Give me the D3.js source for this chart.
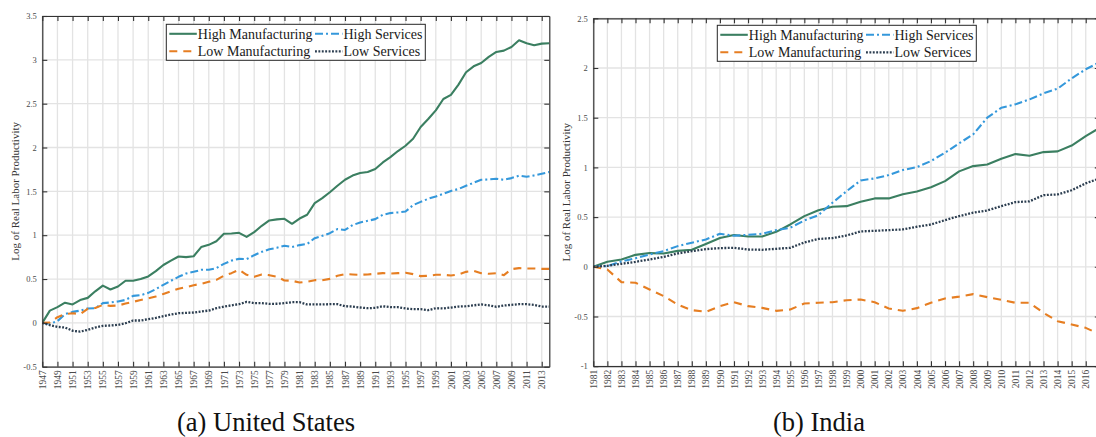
<!DOCTYPE html>
<html>
<head>
<meta charset="utf-8">
<script src="https://cdn.jsdelivr.net/npm/d3@7"></script>
<style>
  html, body { margin: 0; padding: 0; background: #fff; }
  svg { display: block; font-family: "Liberation Serif", "Times New Roman", serif; }
</style>
</head>
<body>
<svg id="chart" width="1096" height="437"></svg>
<script>
// ---- United States, 1947–2014 ----
const usYears = d3.range(1947, 2015);
const usHighManufacturing = [
  0, 0.14, 0.18, 0.23, 0.21, 0.26, 0.285, 0.36, 0.425, 0.38,
  0.415, 0.48, 0.48, 0.50, 0.53, 0.59, 0.66, 0.71, 0.757, 0.75,
  0.76, 0.864, 0.89, 0.93, 1.016, 1.02, 1.027, 0.98, 1.035, 1.107,
  1.168, 1.18, 1.187, 1.13, 1.19, 1.233, 1.366, 1.423, 1.49, 1.564,
  1.632, 1.68, 1.71, 1.72, 1.754, 1.83, 1.89, 1.96, 2.02, 2.10,
  2.234, 2.325, 2.424, 2.553, 2.60, 2.717, 2.858, 2.926, 2.964, 3.033,
  3.09, 3.105, 3.147, 3.223, 3.19, 3.166, 3.185, 3.19
];
const usHighServices = [
  0, -0.01, 0.02, 0.10, 0.125, 0.14, 0.164, 0.167, 0.225, 0.232,
  0.244, 0.262, 0.308, 0.316, 0.342, 0.384, 0.434, 0.48, 0.525, 0.563,
  0.582, 0.605, 0.605, 0.624, 0.673, 0.71, 0.73, 0.727, 0.772, 0.81,
  0.84, 0.856, 0.88, 0.864, 0.887, 0.90, 0.966, 0.993, 1.023, 1.07,
  1.06, 1.115, 1.145, 1.164, 1.183, 1.233, 1.252, 1.26, 1.27, 1.343,
  1.38, 1.415, 1.442, 1.473, 1.505, 1.526, 1.564, 1.598, 1.632, 1.636,
  1.644, 1.632, 1.651, 1.678, 1.667, 1.682, 1.70, 1.72
];
const usLowManufacturing = [
  0, 0.004, 0.065, 0.10, 0.11, 0.10, 0.16, 0.17, 0.205, 0.194,
  0.198, 0.22, 0.24, 0.26, 0.28, 0.30, 0.33, 0.36, 0.39, 0.407,
  0.43, 0.445, 0.468, 0.49, 0.537, 0.567, 0.605, 0.548, 0.525, 0.552,
  0.544, 0.527, 0.483, 0.48, 0.46, 0.47, 0.487, 0.487, 0.502, 0.537,
  0.556, 0.552, 0.548, 0.552, 0.56, 0.567, 0.563, 0.567, 0.571, 0.556,
  0.533, 0.537, 0.548, 0.548, 0.54, 0.552, 0.582, 0.594, 0.567, 0.56,
  0.567, 0.544, 0.613, 0.624, 0.62, 0.62, 0.616, 0.616
];
const usLowServices = [
  0, -0.027, -0.046, -0.053, -0.09, -0.1, -0.08, -0.053, -0.034, -0.03,
  -0.023, -0.004, 0.027, 0.027, 0.042, 0.057, 0.076, 0.095, 0.11, 0.114,
  0.118, 0.13, 0.14, 0.167, 0.186, 0.20, 0.213, 0.24, 0.225, 0.225,
  0.217, 0.218, 0.225, 0.236, 0.236, 0.21, 0.21, 0.21, 0.213, 0.213,
  0.19, 0.186, 0.175, 0.167, 0.171, 0.19, 0.179, 0.179, 0.164, 0.156,
  0.156, 0.145, 0.167, 0.164, 0.175, 0.186, 0.19, 0.20, 0.21, 0.20,
  0.183, 0.198, 0.205, 0.213, 0.213, 0.205, 0.186, 0.186
];
const usXTicks = d3.range(1947, 2014, 2);
const usYTicks = [-0.5, 0, 0.5, 1, 1.5, 2, 2.5, 3, 3.5];

// ---- India, 1981–2017 ----
const inYears = d3.range(1981, 2018);
const inHighManufacturing = [
  0, 0.05, 0.074, 0.12, 0.138, 0.134, 0.16, 0.171, 0.23, 0.29,
  0.32, 0.305, 0.305, 0.352, 0.426, 0.51, 0.568, 0.604, 0.61, 0.654,
  0.688, 0.688, 0.73, 0.758, 0.80, 0.862, 0.96, 1.013, 1.03, 1.087,
  1.134, 1.117, 1.154, 1.161, 1.22, 1.315, 1.40
];
const inHighServices = [
  0, 0.007, 0.054, 0.087, 0.124, 0.158, 0.208, 0.242, 0.275, 0.332,
  0.312, 0.322, 0.332, 0.369, 0.393, 0.466, 0.52, 0.645, 0.76, 0.869,
  0.889, 0.923, 0.973, 1.003, 1.064, 1.148, 1.242, 1.332, 1.50, 1.60,
  1.634, 1.684, 1.745, 1.792, 1.896, 1.987, 2.06
];
const inLowManufacturing = [
  0, -0.027, -0.154, -0.16, -0.228, -0.295, -0.38, -0.436, -0.453, -0.396,
  -0.356, -0.396, -0.413, -0.443, -0.43, -0.369, -0.362, -0.356, -0.336, -0.329,
  -0.356, -0.42, -0.443, -0.416, -0.362, -0.319, -0.30, -0.275, -0.305, -0.332,
  -0.362, -0.362, -0.463, -0.547, -0.58, -0.614, -0.68
];
const inLowServices = [
  0, 0.01, 0.03, 0.05, 0.074, 0.10, 0.134, 0.158, 0.178, 0.188,
  0.191, 0.174, 0.171, 0.181, 0.191, 0.245, 0.28, 0.289, 0.315, 0.356,
  0.362, 0.369, 0.376, 0.403, 0.426, 0.47, 0.51, 0.544, 0.567, 0.61,
  0.651, 0.658, 0.721, 0.728, 0.77, 0.84, 0.89
];
const inXTicks = d3.range(1981, 2017);
const inYTicks = [-1, -0.5, 0, 0.5, 1, 1.5, 2, 2.5];

const seriesNames = ["High Manufacturing", "High Services", "Low Manufacturing", "Low Services"];
const seriesStyle = {
  "High Manufacturing": { color: "#3b7f61", dash: null, width: 2.1 },
  "High Services":      { color: "#3498db", dash: "8,3,2,3", width: 2.1 },
  "Low Manufacturing":  { color: "#e67e22", dash: "8,6", width: 2.1 },
  "Low Services":       { color: "#2c3e50", dash: "1.9,1.5", width: 2.3 }
};

const svg = d3.select("#chart");

function drawPanel(cfg) {
  const { id, left, right, top, bottom, years, series, xDomain, yDomain, xTicks, yTicks, caption, captionX } = cfg;
  const g = svg.append("g").attr("class", "panel-" + id);
  const x = d3.scaleLinear().domain(xDomain).range([left, right]);
  const y = d3.scaleLinear().domain(yDomain).range([bottom, top]);

  g.append("clipPath").attr("id", "clip-" + id)
    .append("rect").attr("x", left).attr("y", top).attr("width", right - left).attr("height", bottom - top);

  // grid
  const grid = g.append("g").attr("stroke", "#e3e3e3").attr("stroke-width", 1.3);
  grid.selectAll("line.v").data(xTicks).join("line").attr("class", "v")
    .attr("x1", d => x(d)).attr("x2", d => x(d)).attr("y1", top).attr("y2", bottom);
  grid.selectAll("line.h").data(yTicks).join("line").attr("class", "h")
    .attr("x1", left).attr("x2", right).attr("y1", d => y(d)).attr("y2", d => y(d));

  // series lines
  const line = d3.line().x((d, i) => x(years[i])).y(d => y(d));
  const lines = g.append("g").attr("clip-path", `url(#clip-${id})`);
  seriesNames.forEach(name => {
    const st = seriesStyle[name];
    lines.append("path").datum(series[name])
      .attr("fill", "none").attr("stroke", st.color).attr("stroke-width", st.width)
      .attr("stroke-dasharray", st.dash).attr("stroke-linejoin", "round")
      .attr("d", line);
  });

  // axes (box with inward ticks)
  const axisColor = "#333";
  const styleAxis = sel => {
    sel.select(".domain").attr("stroke", axisColor).attr("stroke-width", 1.2);
    sel.selectAll(".tick line").attr("stroke", axisColor).attr("stroke-width", 1.1);
    sel.selectAll("text").attr("fill", "#4a4a4a").attr("font-family", "Liberation Serif, serif");
  };
  const xb = g.append("g").attr("transform", `translate(0,${bottom})`)
    .call(d3.axisBottom(x).tickValues(xTicks).tickSize(-5).tickSizeOuter(0).tickFormat(d => String(d)));
  xb.selectAll("text").attr("transform", "rotate(-90)").attr("x", -3.5).attr("y", 0)
    .attr("dy", "0.33em").attr("text-anchor", "end").attr("font-size", 9.5);
  styleAxis(xb);

  const xt = g.append("g").attr("transform", `translate(0,${top})`)
    .call(d3.axisTop(x).tickValues(xTicks).tickSize(-5).tickSizeOuter(0).tickFormat(""));
  styleAxis(xt);

  const yl = g.append("g").attr("transform", `translate(${left},0)`)
    .call(d3.axisLeft(y).tickValues(yTicks).tickSize(-5).tickSizeOuter(0).tickPadding(5.5).tickFormat(d => String(d)));
  yl.selectAll("text").attr("font-size", 8.5);
  styleAxis(yl);

  const yr = g.append("g").attr("transform", `translate(${right},0)`)
    .call(d3.axisRight(y).tickValues(yTicks).tickSize(-5).tickSizeOuter(0).tickFormat(""));
  styleAxis(yr);

  // y-axis title
  g.append("text")
    .attr("transform", `translate(${cfg.titleX},${(top + bottom) / 2}) rotate(-90)`)
    .attr("text-anchor", "middle").attr("font-size", 11).attr("fill", "#333")
    .text("Log of Real Labor Productivity");

  // legend
  const lg = g.append("g").attr("transform", `translate(${left + 124},${top + cfg.legendDy})`);
  lg.append("rect").attr("x", 0).attr("y", 0).attr("width", 259).attr("height", 36)
    .attr("fill", "#fff").attr("stroke", "#262626").attr("stroke-width", 1);
  const cols = [3, 148.7];
  seriesNames.forEach((name, i) => {
    const st = seriesStyle[name];
    const cx = cols[i % 2];
    const cy = i < 2 ? 9.5 : 27;
    lg.append("line").attr("x1", cx).attr("x2", cx + 27.5).attr("y1", cy).attr("y2", cy)
      .attr("stroke", st.color).attr("stroke-width", st.width).attr("stroke-dasharray", st.dash);
    lg.append("text").attr("x", cx + 28.5).attr("y", cy + 5)
      .attr("font-size", 14).attr("fill", "#1a1a1a").text(name);
  });

  // caption
  svg.append("text").attr("x", captionX).attr("y", 430.5).attr("text-anchor", "middle")
    .attr("font-size", 26.5).attr("fill", "#111").text(caption);
}

drawPanel({
  id: "us", left: 42.3, right: 549.3, top: 16, bottom: 366.7,
  years: usYears,
  series: {
    "High Manufacturing": usHighManufacturing, "High Services": usHighServices,
    "Low Manufacturing": usLowManufacturing, "Low Services": usLowServices
  },
  xDomain: [1947, 2014], yDomain: [-0.5, 3.5],
  xTicks: usXTicks, yTicks: usYTicks,
  titleX: 18.5, legendDy: 8.3,
  caption: "(a) United States", captionX: 266
});

drawPanel({
  id: "in", left: 593.3, right: 1099.8, top: 18.3, bottom: 366.2,
  years: inYears,
  series: {
    "High Manufacturing": inHighManufacturing, "High Services": inHighServices,
    "Low Manufacturing": inLowManufacturing, "Low Services": inLowServices
  },
  xDomain: [1981, 2017], yDomain: [-1, 2.5],
  xTicks: inXTicks, yTicks: inYTicks,
  titleX: 570, legendDy: 7,
  caption: "(b) India", captionX: 819
});
</script>
</body>
</html>
